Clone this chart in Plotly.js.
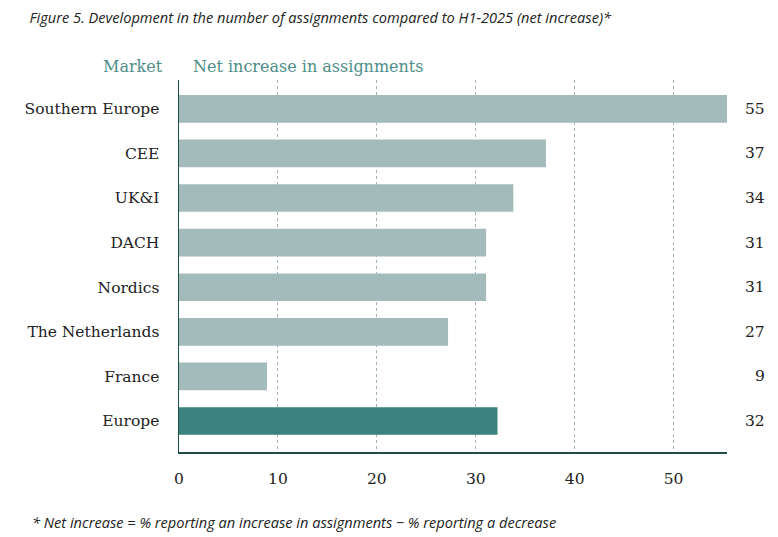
<!DOCTYPE html>
<html>
<head>
<meta charset="utf-8">
<script src="https://cdn.plot.ly/plotly-3.0.1.min.js"></script>
<style>html,body{margin:0;padding:0;background:#fff;}#chart{width:778px;height:537px;}</style>
</head>
<body>
<div id="chart"></div>
<script>
const markets = ["Southern Europe", "CEE", "UK&I", "DACH", "Nordics", "The Netherlands", "France", "Europe"];
const values = [55.4, 37.1, 33.8, 31.05, 31.05, 27.2, 8.9, 32.2];
const labels = ["55", "37", "34", "31", "31", "27", "9", "32"];
const tickVals = [0, 10, 20, 30, 40, 50];

const serif = "DejaVu Serif, Liberation Serif, serif";
const narrow = "Liberation Sans Narrow, Open Sans, sans-serif";

const colors = markets.map(m => m === "Europe" ? "#3b817d" : "#a4bbbb");

const trace = {
  type: "bar",
  orientation: "h",
  x: values,
  y: markets,
  width: 0.62,
  marker: {color: colors},
  hoverinfo: "skip"
};

const annotations = markets.map((m, i) => ({
  xref: "paper", yref: "y",
  x: 1.073, y: m,
  xanchor: "right", yanchor: "middle",
  text: labels[i],
  showarrow: false,
  font: {family: serif, size: 15.5, color: "#222"}
}));

annotations.push({
  xref: "paper", yref: "paper", x: -0.026, y: 1.0376,
  xanchor: "right", yanchor: "middle", text: "Market", showarrow: false,
  font: {family: serif, size: 16, color: "#4e8e8a"}
});
annotations.push({
  xref: "paper", yref: "paper", x: 0.021, y: 1.0376,
  xanchor: "left", yanchor: "middle", text: "Net increase in assignments", showarrow: false,
  font: {family: serif, size: 16, color: "#4e8e8a"}
});
annotations.push({
  xref: "paper", yref: "paper", x: -0.272, y: -0.188,
  xanchor: "left", yanchor: "middle",
  text: "<i>* Net increase = % reporting an increase in assignments \u2212 % reporting a decrease</i>",
  showarrow: false,
  font: {family: narrow, size: 14.6, color: "#222"}
});

const layout = {
  width: 778, height: 537,
  margin: {l: 179, r: 51, t: 80, b: 85},
  paper_bgcolor: "#fff", plot_bgcolor: "#fff",
  showlegend: false,
  title: {
    text: "<i>Figure 5. Development in the number of assignments compared to H1-2025 (net increase)*</i>",
    xref: "container", yref: "container",
    x: 0.038, xanchor: "left", y: 0.966, yanchor: "middle",
    font: {family: narrow, size: 14.6, color: "#222"}
  },
  xaxis: {
    range: [0, 55.4],
    tickvals: tickVals,
    showgrid: true, gridcolor: "#9fb4b4", griddash: "dot", gridwidth: 1,
    zeroline: false,
    showline: true, linecolor: "#1f4d45", linewidth: 1.5,
    ticks: "outside", ticklen: 12, tickcolor: "rgba(0,0,0,0)",
    tickfont: {family: serif, size: 15.5, color: "#222"},
    fixedrange: true
  },
  yaxis: {
    type: "category",
    categoryorder: "array", categoryarray: markets,
    range: [7.695, -0.646],
    showgrid: false, zeroline: false,
    showline: true, linecolor: "#1f4d45", linewidth: 1.5,
    ticks: "outside", ticklen: 15, tickcolor: "rgba(0,0,0,0)",
    tickfont: {family: serif, size: 15.5, color: "#222"},
    fixedrange: true
  },
  annotations: annotations
};

Plotly.newPlot("chart", [trace], layout, {displayModeBar: false, staticPlot: true});
</script>
</body>
</html>
